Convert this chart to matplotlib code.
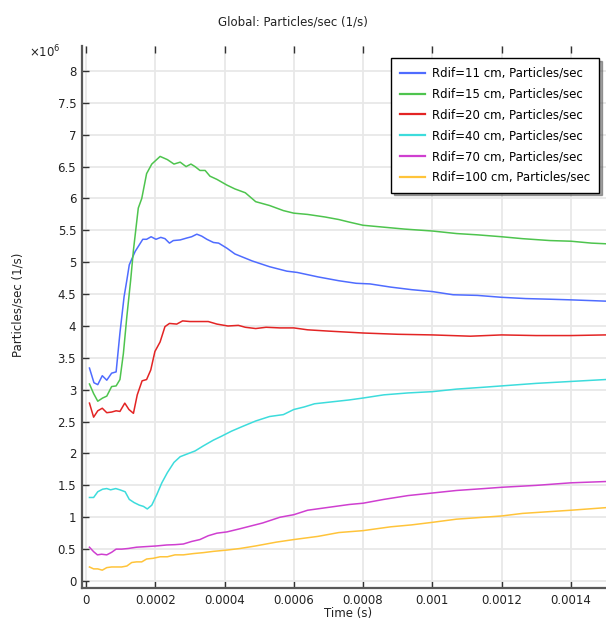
import matplotlib
matplotlib.use("Agg")
import matplotlib.pyplot as plt
from matplotlib.ticker import FuncFormatter, MultipleLocator

# ---- data (values in units of 1e6 particles/s) ----
t_11 = [1.0e-5, 2.3e-5, 3.4e-5, 4.7e-5, 6.0e-5, 7.4e-5, 8.7e-5, 9.8e-5, 1.10e-4, 1.18e-4,
        1.25e-4, 1.42e-4, 1.64e-4, 1.75e-4, 1.88e-4, 2.02e-4, 2.16e-4, 2.28e-4, 2.41e-4, 2.52e-4,
        2.72e-4, 2.91e-4, 3.05e-4, 3.20e-4, 3.34e-4, 3.49e-4, 3.68e-4, 3.83e-4, 4.07e-4, 4.30e-4,
        4.80e-4, 5.30e-4, 5.80e-4, 6.10e-4, 6.70e-4, 7.30e-4, 7.80e-4, 8.20e-4, 8.80e-4, 9.40e-4,
        1.00e-3, 1.06e-3, 1.13e-3, 1.20e-3, 1.27e-3, 1.34e-3, 1.40e-3, 1.50e-3]
p_11 = [3.34, 3.11, 3.08, 3.22, 3.15, 3.26, 3.28, 3.89, 4.46, 4.72,
        4.96, 5.17, 5.36, 5.36, 5.40, 5.36, 5.39, 5.37, 5.30, 5.34,
        5.35, 5.38, 5.40, 5.44, 5.41, 5.36, 5.31, 5.30, 5.22, 5.13,
        5.02, 4.93, 4.86, 4.84, 4.77, 4.71, 4.67, 4.66, 4.61, 4.57,
        4.54, 4.49, 4.48, 4.45, 4.43, 4.42, 4.41, 4.39]

t_15 = [1.0e-5, 2.2e-5, 3.4e-5, 4.8e-5, 6.0e-5, 7.4e-5, 8.7e-5, 9.8e-5, 1.08e-4, 1.18e-4,
        1.29e-4, 1.37e-4, 1.51e-4, 1.61e-4, 1.75e-4, 1.90e-4, 2.14e-4, 2.35e-4, 2.54e-4, 2.72e-4,
        2.89e-4, 3.03e-4, 3.15e-4, 3.29e-4, 3.44e-4, 3.58e-4, 3.78e-4, 4.07e-4, 4.30e-4, 4.60e-4,
        4.90e-4, 5.30e-4, 5.70e-4, 6.00e-4, 6.40e-4, 6.90e-4, 7.30e-4, 7.60e-4, 8.00e-4, 8.60e-4,
        9.20e-4, 1.00e-3, 1.07e-3, 1.13e-3, 1.20e-3, 1.26e-3, 1.34e-3, 1.40e-3, 1.46e-3, 1.50e-3]
p_15 = [3.09, 2.94, 2.82, 2.87, 2.90, 3.05, 3.06, 3.16, 3.57, 4.15,
        4.72, 5.19, 5.85, 6.00, 6.39, 6.54, 6.66, 6.61, 6.54, 6.57,
        6.50, 6.54, 6.50, 6.44, 6.44, 6.35, 6.30, 6.21, 6.15, 6.09,
        5.95, 5.89, 5.81, 5.77, 5.75, 5.71, 5.67, 5.63, 5.58, 5.55,
        5.52, 5.49, 5.45, 5.43, 5.40, 5.37, 5.34, 5.33, 5.30, 5.29]

t_20 = [1.0e-5, 2.2e-5, 3.4e-5, 4.7e-5, 6.0e-5, 7.4e-5, 8.7e-5, 9.8e-5, 1.12e-4, 1.24e-4,
        1.37e-4, 1.48e-4, 1.62e-4, 1.75e-4, 1.87e-4, 1.99e-4, 2.14e-4, 2.28e-4, 2.41e-4, 2.62e-4,
        2.79e-4, 3.00e-4, 3.29e-4, 3.53e-4, 3.78e-4, 4.10e-4, 4.40e-4, 4.60e-4, 4.90e-4, 5.20e-4,
        5.60e-4, 6.00e-4, 6.40e-4, 7.00e-4, 8.00e-4, 9.00e-4, 1.00e-3, 1.11e-3, 1.20e-3, 1.30e-3,
        1.40e-3, 1.50e-3]
p_20 = [2.79, 2.57, 2.67, 2.71, 2.64, 2.65, 2.67, 2.66, 2.79, 2.69,
        2.63, 2.92, 3.14, 3.16, 3.31, 3.60, 3.75, 3.99, 4.04, 4.03,
        4.08, 4.07, 4.07, 4.07, 4.03, 4.00, 4.01, 3.98, 3.96, 3.98,
        3.97, 3.97, 3.94, 3.92, 3.89, 3.87, 3.86, 3.84, 3.86, 3.85,
        3.85, 3.86]

t_40 = [1.0e-5, 2.2e-5, 3.4e-5, 4.8e-5, 6.0e-5, 7.1e-5, 8.6e-5, 9.8e-5, 1.13e-4, 1.25e-4,
        1.39e-4, 1.54e-4, 1.66e-4, 1.77e-4, 1.90e-4, 2.04e-4, 2.19e-4, 2.35e-4, 2.54e-4, 2.72e-4,
        2.91e-4, 3.15e-4, 3.39e-4, 3.68e-4, 3.91e-4, 4.20e-4, 4.50e-4, 4.90e-4, 5.30e-4, 5.70e-4,
        6.00e-4, 6.30e-4, 6.60e-4, 7.10e-4, 7.60e-4, 8.00e-4, 8.60e-4, 9.30e-4, 1.00e-3, 1.07e-3,
        1.15e-3, 1.20e-3, 1.30e-3, 1.40e-3, 1.50e-3]
p_40 = [1.31, 1.31, 1.40, 1.44, 1.45, 1.43, 1.45, 1.43, 1.40, 1.28,
        1.23, 1.19, 1.17, 1.13, 1.19, 1.35, 1.54, 1.70, 1.86, 1.95,
        1.99, 2.04, 2.12, 2.21, 2.27, 2.35, 2.42, 2.51, 2.58, 2.61,
        2.69, 2.73, 2.78, 2.81, 2.84, 2.87, 2.92, 2.95, 2.97, 3.01,
        3.04, 3.06, 3.10, 3.13, 3.16]

t_70 = [1.0e-5, 2.2e-5, 3.3e-5, 4.5e-5, 6.0e-5, 7.4e-5, 8.7e-5, 1.03e-4, 1.22e-4, 1.46e-4,
        1.75e-4, 2.04e-4, 2.33e-4, 2.57e-4, 2.81e-4, 3.05e-4, 3.29e-4, 3.53e-4, 3.78e-4, 4.07e-4,
        4.45e-4, 5.10e-4, 5.60e-4, 6.00e-4, 6.40e-4, 6.80e-4, 7.60e-4, 8.00e-4, 8.60e-4, 9.30e-4,
        1.00e-3, 1.07e-3, 1.15e-3, 1.20e-3, 1.30e-3, 1.40e-3, 1.50e-3]
p_70 = [0.53, 0.46, 0.41, 0.42, 0.41, 0.45, 0.50, 0.50, 0.51, 0.53,
        0.54, 0.55, 0.565, 0.57, 0.58, 0.62, 0.65, 0.71, 0.75, 0.77,
        0.82, 0.91, 1.00, 1.04, 1.11, 1.14, 1.20, 1.22, 1.28, 1.34,
        1.38, 1.42, 1.45, 1.47, 1.50, 1.54, 1.56]

t_100 = [1.0e-5, 2.2e-5, 3.4e-5, 4.7e-5, 6.0e-5, 7.4e-5, 8.9e-5, 1.03e-4, 1.18e-4, 1.32e-4,
         1.46e-4, 1.61e-4, 1.75e-4, 1.94e-4, 2.14e-4, 2.35e-4, 2.57e-4, 2.81e-4, 3.10e-4, 3.39e-4,
         3.68e-4, 4.07e-4, 4.45e-4, 4.90e-4, 5.50e-4, 6.00e-4, 6.70e-4, 7.30e-4, 8.00e-4, 8.80e-4,
         9.40e-4, 1.00e-3, 1.07e-3, 1.20e-3, 1.26e-3, 1.40e-3, 1.50e-3]
p_100 = [0.22, 0.19, 0.19, 0.17, 0.21, 0.22, 0.22, 0.22, 0.235, 0.29,
         0.30, 0.30, 0.345, 0.356, 0.38, 0.38, 0.41, 0.41, 0.43, 0.445,
         0.465, 0.485, 0.51, 0.55, 0.61, 0.65, 0.70, 0.76, 0.79, 0.85,
         0.88, 0.92, 0.97, 1.02, 1.06, 1.11, 1.15]

labels = ["Rdif=11 cm, Particles/sec", "Rdif=15 cm, Particles/sec",
          "Rdif=20 cm, Particles/sec", "Rdif=40 cm, Particles/sec",
          "Rdif=70 cm, Particles/sec", "Rdif=100 cm, Particles/sec"]
colors = ["#4f6cff", "#4ec44e", "#e32424", "#3ddcdc", "#cf3fd0", "#ffc43a"]
series = [(t_11, p_11), (t_15, p_15), (t_20, p_20), (t_40, p_40), (t_70, p_70), (t_100, p_100)]

FS = 8.5
plt.rcParams['font.family'] = ['DejaVu Sans']

fig = plt.figure(figsize=(6.06, 6.20), dpi=100)
W, H = 606.0, 620.0
ax_l, ax_r, ax_t, ax_b = 81.7, 606.5, 46.0, 587.5
ax = fig.add_axes([ax_l / W, 1 - ax_b / H, (ax_r - ax_l) / W, (ax_b - ax_t) / H])

for (tt, pp), lab, col in zip(series, labels, colors):
    ax.plot(tt, pp, color=col, lw=1.1, label=lab)

ax.set_xlim(-1.24e-5, 0.001503)
ax.set_ylim(-0.102, 8.392)
ax.xaxis.set_major_locator(MultipleLocator(0.0002))
ax.yaxis.set_major_locator(MultipleLocator(0.5))
ax.xaxis.set_major_formatter(FuncFormatter(lambda v, p: "0" if abs(v) < 1e-12 else "%g" % v))
ax.yaxis.set_major_formatter(FuncFormatter(lambda v, p: "%g" % v))
ax.grid(True, color="#e8e8e8", lw=1.3)
ax.set_axisbelow(True)

ax.tick_params(axis="both", direction="in", labelsize=FS, colors="#333333",
               labelcolor="#222222", length=5, width=1.0)
ax.tick_params(axis="x", top=True, pad=4.5)
ax.tick_params(axis="y", right=False, pad=4)
for s in ["left", "bottom"]:
    ax.spines[s].set_color("#5a5a5a")
    ax.spines[s].set_linewidth(1.6)
ax.spines["top"].set_visible(False)
ax.spines["right"].set_visible(False)

leg = ax.legend(loc="upper right", bbox_to_anchor=((599 - ax_l) / (ax_r - ax_l), 1 - (58 - ax_t) / (ax_b - ax_t)),
                borderaxespad=0, fontsize=FS, frameon=True, fancybox=False, shadow=True,
                framealpha=1.0, edgecolor="black", handlelength=2.1, handletextpad=0.6,
                labelspacing=0.66, borderpad=0.75)
leg.get_frame().set_linewidth(1.0)
for line in leg.get_lines():
    line.set_linewidth(1.6)

fig.text(293 / W, 1 - 22 / H, "Global: Particles/sec (1/s)", ha="center", va="center",
         fontsize=FS, color="#222222")
fig.text(45 / W, 1 - 52 / H, r"$\times10^{6}$", ha="center", va="center", fontsize=FS, color="#222222")
fig.text(18 / W, 1 - 305 / H, "Particles/sec (1/s)", ha="center", va="center", rotation=90,
         fontsize=FS, color="#222222")
fig.text(348 / W, 1 - 619.6 / H, "Time (s)", ha="center", va="bottom", fontsize=FS, color="#222222")

fig.savefig("out.png", dpi=100)
